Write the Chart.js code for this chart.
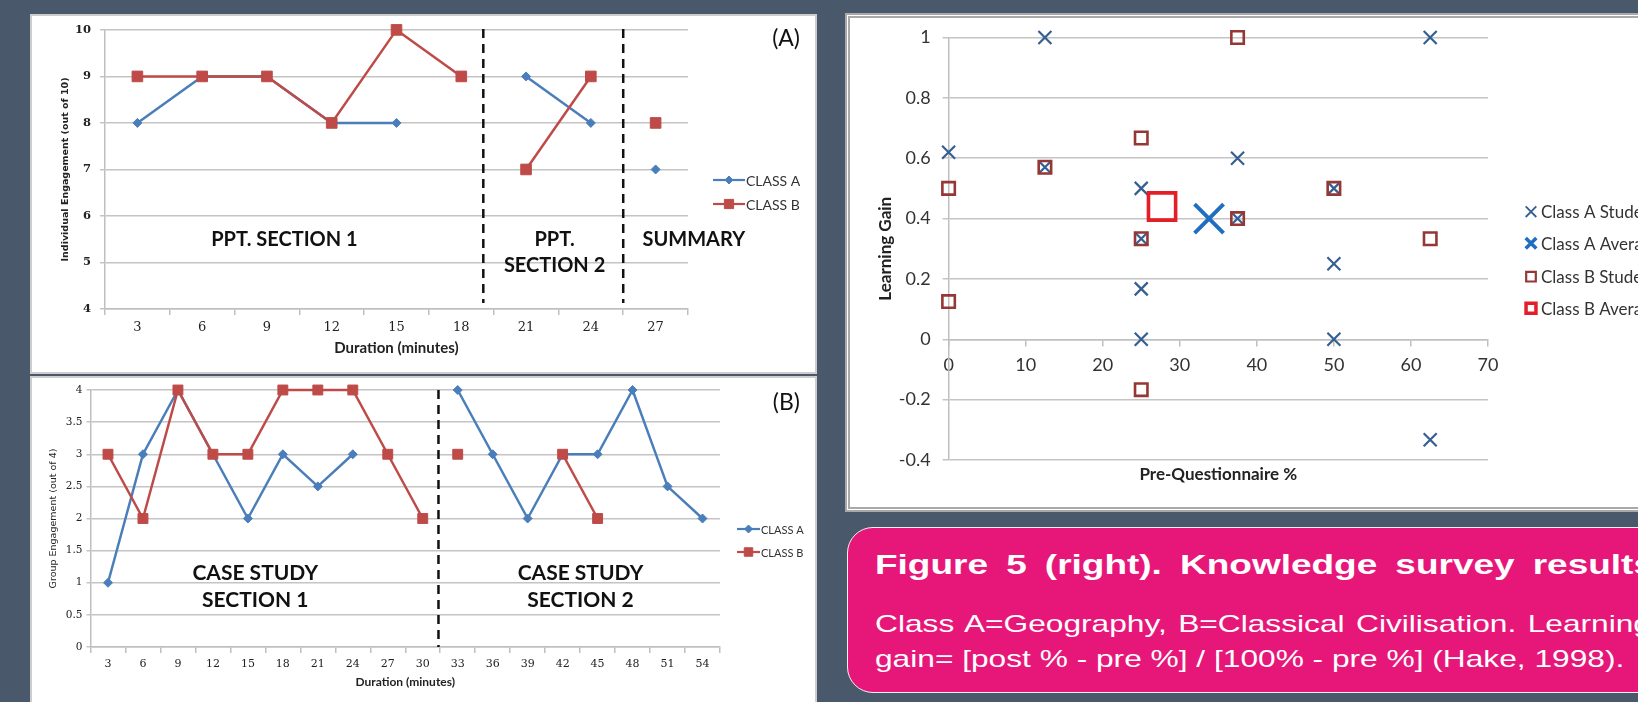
<!DOCTYPE html>
<html><head><meta charset="utf-8">
<script src="https://cdn.jsdelivr.net/npm/chart.js@4.4.0/dist/chart.umd.min.js"></script>
<style>
html,body{margin:0;padding:0;}
body{width:1638px;height:702px;background:#4a586c;position:relative;overflow:hidden;font-family:Lato,sans-serif;}
.panel{position:absolute;background:#fff;box-sizing:border-box;}
#boxA{left:30px;top:14px;width:787px;height:360px;border:2px solid #cdcdcd;}
#boxB{left:30px;top:376px;width:787px;height:340px;border:2px solid #cdcdcd;}
#boxS{left:845px;top:13px;width:820px;height:499px;border:5px double #a9a9a9;}
canvas{position:absolute;}
#cA{left:30px;top:14px;}
#cB{left:30px;top:376px;}
#cS{left:845px;top:13px;}
#caption{position:absolute;left:847px;top:527px;width:900px;height:166px;box-sizing:border-box;border:1.5px solid #f2f2f2;border-radius:26px;background:#e7177a;}
.cap{position:absolute;left:875px;color:#fff;font-family:'Liberation Sans',Arial,sans-serif;white-space:nowrap;line-height:1;transform-origin:0 0;}
</style></head>
<body>
<div class="panel" id="boxA"></div>
<div class="panel" id="boxB"></div>
<div class="panel" id="boxS"></div>
<canvas id="cA" width="787" height="360"></canvas>
<canvas id="cB" width="787" height="326"></canvas>
<canvas id="cS" width="793" height="499"></canvas>
<div id="caption"></div>
<div class="cap" style="top:551px;font-weight:bold;font-size:28px;word-spacing:6px;transform:scaleX(1.32);">Figure 5 (right). Knowledge survey results</div>
<div class="cap" style="top:612px;font-size:24px;word-spacing:2px;transform:scaleX(1.32);">Class A=Geography, B=Classical Civilisation. Learning</div>
<div class="cap" style="top:647px;font-size:24px;transform:scaleX(1.32);">gain= [post % - pre %] / [100% - pre %] (Hake, 1998).</div>
<script>
// ---------- DATA ----------
// (A) Individual engagement
const minutesA = ['3','6','9','12','15','18','21','24','27'];
const individualClassA = [8, 9, 9, 8, 8, null, 9, 8, 7];
const individualClassB = [9, 9, 9, 8, 10, 9, 7, 9, 8];
const sectionBreaksA = [5, 7];           // no line drawn from these indices to the next
// (B) Group engagement
const minutesB = ['3','6','9','12','15','18','21','24','27','30','33','36','39','42','45','48','51','54'];
const groupClassA = [1, 3, 4, 3, 2, 3, 2.5, 3, null, null, 4, 3, 2, 3, 3, 4, 2.5, 2];
const groupClassB = [3, 2, 4, 3, 3, 4, 4, 4, 3, 2, 3, null, null, 3, 2, null, null, null];
const sectionBreaksB = [9];
// Knowledge survey
const classAStudents = [
  {x:0, y:0.62}, {x:12.5, y:1}, {x:12.5, y:0.57}, {x:25, y:0.5}, {x:25, y:0.333},
  {x:25, y:0.167}, {x:25, y:0}, {x:37.5, y:0.6}, {x:37.5, y:0.4}, {x:50, y:0.5},
  {x:50, y:0.25}, {x:50, y:0}, {x:62.5, y:1}, {x:62.5, y:-0.333}
];
const classAAverage = [{x:33.8, y:0.40}];
const classBStudents = [
  {x:0, y:0.5}, {x:0, y:0.125}, {x:12.5, y:0.57}, {x:25, y:0.667}, {x:25, y:0.333},
  {x:25, y:-0.167}, {x:37.5, y:1}, {x:37.5, y:0.4}, {x:50, y:0.5}, {x:62.5, y:0.333}
];
const classBAverage = [{x:27.7, y:0.44}];

// ---------- HELPERS ----------
const BLUE = '#4a7ebb', RED = '#be4b48';
function marker(ctx, style, x, y, r, fill, stroke, lw) {
  ctx.save(); ctx.lineWidth = lw; ctx.strokeStyle = stroke; ctx.fillStyle = fill;
  ctx.beginPath();
  if (style === 'rect') { const s = r * Math.SQRT1_2; ctx.rect(x - s, y - s, 2 * s, 2 * s); ctx.fill(); if (lw > 0) ctx.stroke(); }
  else if (style === 'rectRot') { ctx.moveTo(x, y - r); ctx.lineTo(x + r, y); ctx.lineTo(x, y + r); ctx.lineTo(x - r, y); ctx.closePath(); ctx.fill(); if (lw > 0) ctx.stroke(); }
  else { const s = r * Math.SQRT1_2; ctx.moveTo(x - s, y - s); ctx.lineTo(x + s, y + s); ctx.moveTo(x + s, y - s); ctx.lineTo(x - s, y + s); ctx.stroke(); }
  ctx.restore();
}
const breakSegment = (breaks) => ({ borderColor: c => breaks.includes(c.p0DataIndex) ? 'rgba(0,0,0,0)' : undefined });

const annotations = {
  id: 'annotations',
  beforeDatasetsDraw(chart, args, o) {
    if (!o.dividers) return;
    const ctx = chart.ctx, xs = chart.scales.x, ys = chart.scales.y;
    ctx.save(); ctx.setLineDash(o.dash); ctx.lineWidth = 2.5; ctx.strokeStyle = '#111';
    o.dividers.forEach(d => {
      const px = xs.getPixelForValue(d);
      ctx.beginPath(); ctx.moveTo(px, ys.getPixelForValue(o.dividerTop)); ctx.lineTo(px, ys.getPixelForValue(o.dividerBottom)); ctx.stroke();
    });
    ctx.restore();
  },
  afterDatasetsDraw(chart, args, o) {
    const ctx = chart.ctx, xs = chart.scales.x, ys = chart.scales.y;
    ctx.save();
    (o.labels || []).forEach(l => {
      ctx.font = l.font; ctx.fillStyle = '#111'; ctx.textAlign = 'center'; ctx.textBaseline = 'middle';
      ctx.fillText(l.text, xs.getPixelForValue(l.x), ys.getPixelForValue(l.y));
    });
    if (o.corner) {
      ctx.font = o.corner.font; ctx.fillStyle = '#111'; ctx.textAlign = 'right'; ctx.textBaseline = 'middle';
      ctx.fillText(o.corner.text, o.corner.x, o.corner.y);
    }
    const lg = o.legend;
    if (lg) {
      chart.data.datasets.forEach((ds, i) => {
        const y = lg.rows[i];
        const mx = lg.lineStart != null ? (lg.lineStart + lg.lineEnd) / 2 : lg.markerX;
        if (lg.lineStart != null) {
          ctx.strokeStyle = ds.borderColor; ctx.lineWidth = 2.2;
          ctx.beginPath(); ctx.moveTo(lg.lineStart, y); ctx.lineTo(lg.lineEnd, y); ctx.stroke();
        }
        marker(ctx, ds.pointStyle, mx, y, lg.radius[i], ds.pointBackgroundColor, ds.pointBorderColor, lg.borderWidth[i]);
        ctx.font = lg.font; ctx.fillStyle = '#333'; ctx.textAlign = 'left'; ctx.textBaseline = 'middle';
        ctx.fillText(ds.label, lg.textX, y + 1);
      });
    }
    ctx.restore();
  }
};
Chart.register(annotations);

const GRID = '#c4c4c4';

// ---------- CHART A ----------
new Chart(document.getElementById('cA'), {
  type: 'line',
  data: { labels: minutesA, datasets: [
    { label: 'CLASS A', data: individualClassA, borderColor: BLUE, borderWidth: 2.5, pointStyle: 'rectRot', pointRadius: 4.5,
      pointBackgroundColor: BLUE, pointBorderColor: BLUE, pointBorderWidth: 1, spanGaps: false, clip: false, order: 2, segment: breakSegment(sectionBreaksA) },
    { label: 'CLASS B', data: individualClassB, borderColor: RED, borderWidth: 2.5, pointStyle: 'rect', pointRadius: 7.5,
      pointBackgroundColor: RED, pointBorderColor: RED, pointBorderWidth: 1, spanGaps: false, clip: false, order: 1, segment: breakSegment(sectionBreaksA) }
  ]},
  options: {
    responsive: false, animation: false, events: [],
    layout: { padding: { left: 0, top: 15, right: 129, bottom: 0 } },
    plugins: { legend: { display: false }, tooltip: { enabled: false },
      annotations: {
        dividers: [5.34, 7.5], dividerTop: 10.02, dividerBottom: 4.13, dash: [9, 6],
        labels: [
          { text: 'PPT. SECTION 1', x: 2.27, y: 5.5, font: 'bold 20px Lato' },
          { text: 'PPT.', x: 6.44, y: 5.5, font: 'bold 20px Lato' },
          { text: 'SECTION 2', x: 6.44, y: 4.94, font: 'bold 20px Lato' },
          { text: 'SUMMARY', x: 8.59, y: 5.5, font: 'bold 20px Lato' }
        ],
        corner: { text: '(A)', x: 770, y: 25, font: '23px Lato' },
        legend: { lineStart: 683, lineEnd: 715, textX: 716, rows: [166, 190], radius: [4, 6.5], borderWidth: [1, 1], font: '14px Lato' }
      } },
    scales: {
      x: { type: 'category', offset: true,
        grid: { offset: true, drawOnChartArea: false, drawTicks: true, tickLength: 6, color: '#bfbfbf', lineWidth: 1.5 },
        border: { color: '#bfbfbf', width: 1.5 },
        ticks: { font: { family: 'DejaVu Serif', size: 13 }, color: '#222', padding: 5, maxRotation: 0, autoSkip: false },
        title: { display: true, text: 'Duration (minutes)', font: { family: 'Lato', weight: 'bold', size: 15 }, color: '#222', padding: { top: 0, bottom: 17 } },
        afterFit(s) { s.height = 65; } },
      y: { min: 4, max: 10,
        grid: { color: GRID, lineWidth: 1.5, tickLength: 5 },
        border: { color: '#bfbfbf', width: 1.5 },
        ticks: { stepSize: 1, font: { family: 'DejaVu Serif', size: 11.5, weight: 'bold' }, color: '#222', padding: 9 },
        title: { display: true, text: 'Individual Engagement (out of 10)', font: { family: 'DejaVu Sans', weight: 'bold', size: 9.5 }, color: '#222', padding: { top: 30, bottom: 0 } },
        afterFit(s) { s.width = 75; } }
    }
  }
});

// ---------- CHART B ----------
new Chart(document.getElementById('cB'), {
  type: 'line',
  data: { labels: minutesB, datasets: [
    { label: 'CLASS A', data: groupClassA, borderColor: BLUE, borderWidth: 2.5, pointStyle: 'rectRot', pointRadius: 4.5,
      pointBackgroundColor: BLUE, pointBorderColor: BLUE, pointBorderWidth: 1, spanGaps: false, clip: false, order: 2, segment: breakSegment(sectionBreaksB) },
    { label: 'CLASS B', data: groupClassB, borderColor: RED, borderWidth: 2.5, pointStyle: 'rect', pointRadius: 7,
      pointBackgroundColor: RED, pointBorderColor: RED, pointBorderWidth: 1, spanGaps: false, clip: false, order: 1, segment: breakSegment(sectionBreaksB) }
  ]},
  options: {
    responsive: false, animation: false, events: [],
    layout: { padding: { left: 0, top: 14, right: 97, bottom: 0 } },
    plugins: { legend: { display: false }, tooltip: { enabled: false },
      annotations: {
        dividers: [9.45], dividerTop: 4, dividerBottom: 0, dash: [9, 6],
        labels: [
          { text: 'CASE STUDY', x: 4.21, y: 1.15, font: 'bold 21px Lato' },
          { text: 'SECTION 1', x: 4.21, y: 0.735, font: 'bold 21px Lato' },
          { text: 'CASE STUDY', x: 13.51, y: 1.15, font: 'bold 21px Lato' },
          { text: 'SECTION 2', x: 13.51, y: 0.735, font: 'bold 21px Lato' }
        ],
        corner: { text: '(B)', x: 770, y: 27, font: '23px Lato' },
        legend: { lineStart: 707, lineEnd: 730, textX: 731, rows: [153, 176], radius: [4, 6], borderWidth: [1, 1], font: '11px Lato' }
      } },
    scales: {
      x: { type: 'category', offset: true,
        grid: { offset: true, drawOnChartArea: false, drawTicks: true, tickLength: 6, color: '#bfbfbf', lineWidth: 1.5 },
        border: { color: '#bfbfbf', width: 1.5 },
        ticks: { font: { family: 'DejaVu Serif', size: 11 }, color: '#222', padding: 5, maxRotation: 0, autoSkip: false },
        title: { display: true, text: 'Duration (minutes)', font: { family: 'Lato', weight: 'bold', size: 12 }, color: '#222', padding: { top: 0, bottom: 12.5 } },
        afterFit(s) { s.height = 55; } },
      y: { min: 0, max: 4,
        grid: { color: GRID, lineWidth: 1.5, tickLength: 4 },
        border: { color: '#bfbfbf', width: 1.5 },
        ticks: { stepSize: 0.5, font: { family: 'DejaVu Serif', size: 10.5 }, color: '#222', padding: 4,
          callback: v => String(Math.round(v * 10) / 10) },
        title: { display: true, text: 'Group Engagement (out of 4)', font: { family: 'DejaVu Sans', size: 9.5 }, color: '#222', padding: { top: 18, bottom: 0 } },
        afterFit(s) { s.width = 60.5; } }
    }
  }
});

// ---------- SCATTER ----------
new Chart(document.getElementById('cS'), {
  type: 'scatter',
  data: { datasets: [
    { label: 'Class A Students', data: classAStudents, pointStyle: 'crossRot', pointRadius: 9.2, pointBorderWidth: 2.2,
      pointBorderColor: '#365f91', pointBackgroundColor: 'rgba(0,0,0,0)', clip: false, order: 4 },
    { label: 'Class A Average', data: classAAverage, pointStyle: 'crossRot', pointRadius: 20.5, pointBorderWidth: 4,
      pointBorderColor: '#1f6fc1', pointBackgroundColor: 'rgba(0,0,0,0)', clip: false, order: 3 },
    { label: 'Class B Students', data: classBStudents, pointStyle: 'rect', pointRadius: 8.8, pointBorderWidth: 2.6,
      pointBorderColor: '#953735', pointBackgroundColor: 'rgba(0,0,0,0)', clip: false, order: 2 },
    { label: 'Class B Average', data: classBAverage, pointStyle: 'rect', pointRadius: 19.2, pointBorderWidth: 3.6,
      pointBorderColor: '#e41e26', pointBackgroundColor: 'rgba(0,0,0,0)', clip: false, order: 1 }
  ]},
  options: {
    responsive: false, animation: false, events: [],
    layout: { padding: { left: 0, top: 23, right: 150, bottom: 0 } },
    plugins: { legend: { display: false }, tooltip: { enabled: false },
      annotations: {
        legend: { markerX: 686, textX: 696, rows: [198.7, 230.3, 263.7, 295.3], radius: [7.5, 7.5, 6.8, 7], borderWidth: [1.8, 3.5, 2.2, 3.5], font: '17px Lato' }
      } },
    scales: {
      x: { type: 'linear', min: 0, max: 70, position: { y: 0 },
        grid: { drawOnChartArea: false, drawTicks: true, tickLength: 6, color: '#bfbfbf', lineWidth: 1.5 },
        border: { color: '#bfbfbf', width: 1.5 },
        ticks: { stepSize: 10, font: { family: 'Lato', size: 18 }, color: '#333', padding: 9 } },
      x2: { type: 'linear', position: 'bottom', min: 0, max: 1,
        grid: { display: false }, border: { display: false }, ticks: { display: false },
        title: { display: true, text: 'Pre-Questionnaire %', font: { family: 'Lato', weight: 'bold', size: 17 }, color: '#222', padding: { top: 0, bottom: 26.8 } },
        afterFit(s) { s.height = 52; } },
      y: { min: -0.4, max: 1,
        grid: { color: GRID, lineWidth: 1.5, tickLength: 6 },
        border: { color: '#bfbfbf', width: 1.5 },
        ticks: { stepSize: 0.2, font: { family: 'Lato', size: 18 }, color: '#333', padding: 12,
          callback: v => String(Math.round(v * 10) / 10) },
        title: { display: true, text: 'Learning Gain', font: { family: 'Lato', weight: 'bold', size: 17 }, color: '#222', padding: { top: 30, bottom: 0 } },
        afterFit(s) { s.width = 103.6; } }
    }
  }
});
</script>
</body></html>
